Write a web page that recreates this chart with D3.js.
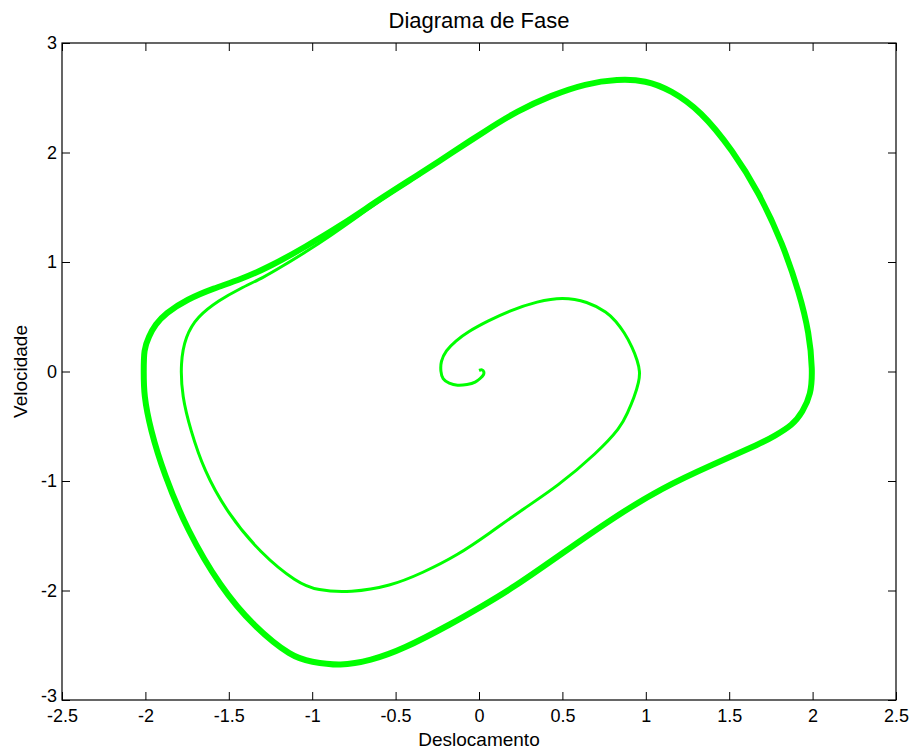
<!DOCTYPE html>
<html>
<head>
<meta charset="utf-8">
<script src="https://cdn.jsdelivr.net/npm/d3@7"></script>
<style>
  body { margin: 0; background: #fff; }
  text { font-family: "Liberation Sans", Arial, Helvetica, sans-serif; }
</style>
</head>
<body>
<div id="chart"></div>
<script>
// Parameters
var width  = 912,
    height = 751;
var margin = { left: 62, right: 16, top: 43, bottom: 51 };

// tick labels
var xTicks = [-2.5, -2, -1.5, -1, -0.5, 0, 0.5, 1, 1.5, 2, 2.5];
var yTicks = [-3, -2, -1, 0, 1, 2, 3];

// transient: spiral out from the origin until it joins the cycle
var spiralX = [0.00, 0.02, 0.03, 0.03, 0.01, -0.02, -0.07, -0.13, -0.18, -0.22, -0.23, -0.23, -0.20, -0.14, -0.07,
               0.05, 0.19, 0.35, 0.50, 0.65, 0.77, 0.82, 0.87, 0.92, 0.95, 0.965, 0.96, 0.93, 0.89, 0.85, 0.71, 0.47, 0.26, 0.07,
               -0.13, -0.34, -0.53, -0.77, -0.97, -1.09, -1.31, -1.51, -1.65, -1.73, -1.78, -1.79, -1.76, -1.69,
               -1.56, -1.43, -1.29, -1.18, -1.04, -0.89, -0.71, -0.58, -0.35];
var spiralY = [0.01, 0.02, 0.00, -0.03, -0.06, -0.10, -0.12, -0.13, -0.11, -0.07, 0.00, 0.09, 0.19, 0.28, 0.36,
               0.46, 0.56, 0.64, 0.68, 0.64, 0.54, 0.46, 0.36, 0.22, 0.10, 0.00, -0.09, -0.24, -0.38, -0.51, -0.74, -1.05, -1.26, -1.47,
               -1.68, -1.84, -1.96, -2.02, -2.00, -1.93, -1.66, -1.29, -0.90, -0.53, -0.23, 0.08, 0.32, 0.50,
               0.65, 0.76, 0.86, 0.96, 1.09, 1.24, 1.43, 1.58, 1.80];

// limit cycle (closed loop, clockwise from the leftmost point)
var cycleX = [-2.01, -2.01, -1.98, -1.94, -1.88, -1.75, -1.59, -1.43, -1.25, -1.04, -0.83, -0.58, -0.35, -0.17,
              0.04, 0.23, 0.43, 0.64, 0.83, 1.00, 1.15, 1.33, 1.52, 1.68, 1.82, 1.92, 1.98, 2.00, 1.99, 1.94,
              1.88, 1.77, 1.70, 1.40, 1.10, 0.80, 0.50, 0.20, 0.01, -0.16, -0.46, -0.65, -0.83, -1.01, -1.12,
              -1.35, -1.55, -1.75, -1.89, -1.97, -2.01];
var cycleY = [0.00, 0.20, 0.32, 0.43, 0.53, 0.66, 0.76, 0.84, 0.96, 1.14, 1.33, 1.59, 1.81, 1.99,
              2.20, 2.38, 2.52, 2.63, 2.67, 2.66, 2.57, 2.38, 2.02, 1.63, 1.17, 0.72, 0.35, 0.01, -0.21, -0.37,
              -0.49, -0.59, -0.65, -0.85, -1.06, -1.34, -1.66, -1.98, -2.15, -2.30, -2.54, -2.64, -2.69, -2.65, -2.61,
              -2.33, -1.97, -1.45, -0.93, -0.53, -0.21];

var spiral = spiralX.map(function(d, i) { return [d, spiralY[i]]; });
var cycle  = cycleX.map(function(d, i) { return [d, cycleY[i]]; });

var svg = d3.select("#chart")
    .append("svg")
    .attr("width", width)
    .attr("height", height);

var x = d3.scaleLinear().domain([-2.5, 2.5]).range([margin.left, width - margin.right]);
var y = d3.scaleLinear().domain([-3, 3]).range([height - margin.bottom, margin.top]);

var line = d3.line()
    .x(function(d) { return x(d[0]); })
    .y(function(d) { return y(d[1]); });

// curves (b-spline smooths out reading noise)
svg.append("path")
    .attr("d", line.curve(d3.curveBasisClosed)(cycle))
    .attr("fill", "none")
    .attr("stroke", "#00ff00")
    .attr("stroke-width", 6);

svg.append("path")
    .attr("d", line.curve(d3.curveBasis)(spiral))
    .attr("fill", "none")
    .attr("stroke", "#00ff00")
    .attr("stroke-width", 3)
    .attr("stroke-linejoin", "round");

// axes, ticks pointing inward on all four sides
var fmt = function(d) { return String(d); };
var tick = 8;

svg.append("g")
    .attr("transform", "translate(0," + y(-3) + ")")
    .call(d3.axisBottom(x).tickValues(xTicks).tickFormat(fmt).tickSizeInner(-tick).tickSizeOuter(0).tickPadding(9));
svg.append("g")
    .attr("transform", "translate(0," + y(3) + ")")
    .call(d3.axisTop(x).tickValues(xTicks).tickFormat("").tickSizeInner(-tick).tickSizeOuter(0));
var yAxis = svg.append("g")
    .attr("transform", "translate(" + x(-2.5) + ",0)")
    .call(d3.axisLeft(y).tickValues(yTicks).tickFormat(fmt).tickSizeInner(-tick).tickSizeOuter(0).tickPadding(5));
svg.append("g")
    .attr("transform", "translate(" + x(2.5) + ",0)")
    .call(d3.axisRight(y).tickValues(yTicks).tickFormat("").tickSizeInner(-tick).tickSizeOuter(0));

svg.selectAll(".domain").remove();
svg.selectAll(".tick text")
    .attr("fill", "#000")
    .style("font-size", "18px");
svg.selectAll(".tick line").attr("stroke", "#000");
// lift the bottom "-3" a little so it clears "-2.5"
yAxis.selectAll(".tick text").filter(function(d) { return d === -3; }).attr("dy", "0.1em");

// frame
svg.append("rect")
    .attr("x", x(-2.5))
    .attr("y", y(3))
    .attr("width", x(2.5) - x(-2.5))
    .attr("height", y(-3) - y(3))
    .attr("fill", "none")
    .attr("stroke", "#000")
    .attr("stroke-width", 1.2);

// labels
svg.append("text")
    .attr("x", x(0))
    .attr("y", 28)
    .attr("text-anchor", "middle")
    .style("font-size", "22px")
    .text("Diagrama de Fase");

svg.append("text")
    .attr("x", x(0))
    .attr("y", 746)
    .attr("text-anchor", "middle")
    .style("font-size", "19px")
    .text("Deslocamento");

svg.append("text")
    .attr("transform", "translate(27," + y(0) + ") rotate(-90)")
    .attr("text-anchor", "middle")
    .style("font-size", "19px")
    .text("Velocidade");
</script>
</body>
</html>
